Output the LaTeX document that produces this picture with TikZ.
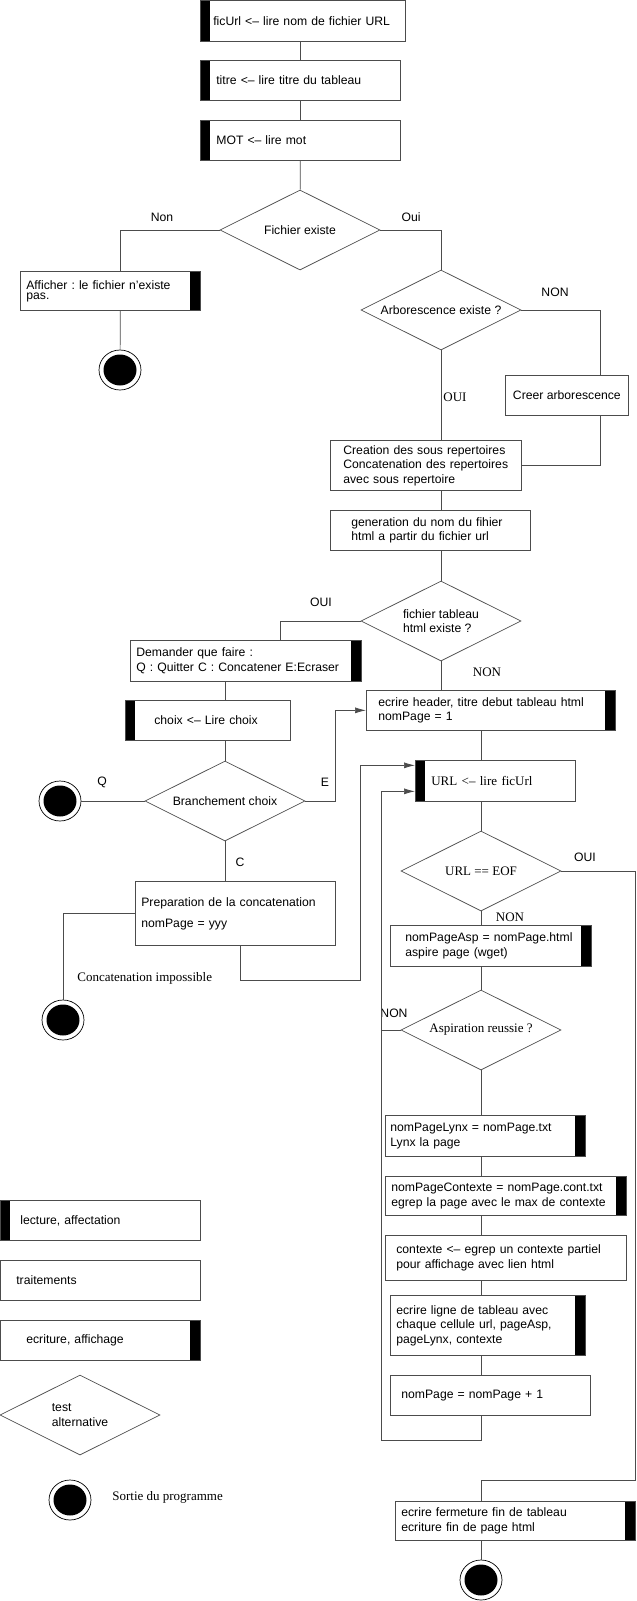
\documentclass[tikz,border=0pt]{standalone}
\usepackage{fontspec}
\setmainfont{Liberation Sans}
\newfontfamily\timesfont{Liberation Serif}
\usetikzlibrary{shapes.geometric, arrows.meta, positioning, calc}
\frenchspacing

\begin{document}
\begin{tikzpicture}[
        x=1pt, y=-1pt,
        font=\fontsize{12.2}{14.5}\selectfont,
        line width=0.7pt,
        bloc/.style={draw=black!70, rectangle, anchor=north west, align=left, inner ysep=0pt, minimum height=40},
        barg/.style={path picture={\fill[black] (path picture bounding box.north west) rectangle ([xshift=10pt]path picture bounding box.south west);}},
        bard/.style={path picture={\fill[black] ([xshift=-10pt]path picture bounding box.north east) rectangle (path picture bounding box.south east);}},
        losange/.style={draw=black!70, diamond, aspect=2, minimum width=160, minimum height=80, inner sep=0pt, align=center},
        fin/.style={draw, ellipse, minimum width=42, minimum height=40, inner sep=0pt, path picture={\fill[black] (path picture bounding box.center) ellipse (16.5pt and 15.5pt);}},
        romain/.style={font=\timesfont\fontsize{13}{15}\selectfont},
        etiq/.style={inner sep=0pt},
        lien/.style={draw=black!70},
        fleche/.style={lien, -{Latex[length=11pt,width=6pt]}}
    ]
        \useasboundingbox (0,0) rectangle (637,1601);

        % Lectures du debut
        \node[bloc, barg, minimum height=41, inner xsep=13pt, text width=179pt] (lireUrl) at (200,0) {ficUrl <\textendash{} lire nom de fichier URL};
        \node[bloc, barg, inner xsep=16pt, text width=168pt] (lireTitre) at (200,60) {titre <\textendash{} lire titre du tableau};
        \node[bloc, barg, inner xsep=16pt, text width=168pt] (lireMot) at (200,120) {MOT <\textendash{} lire mot};

        % Fichier existe
        \node[losange] (testFic) at (300,230) {Fichier existe};
        \node[bloc, bard, minimum height=39, inner xsep=6pt, text width=168pt, font=\fontsize{12.2}{10}\selectfont] (affNon) at (20,271) {Afficher : le fichier n'existe\\pas.};
        \node[fin] (fin1) at (120,370) {};

        % Arborescence
        \node[losange] (testArbo) at (441,310) {Arborescence existe ?};
        \node[bloc, align=center, minimum width=123] (creer) at (505,375) {Creer arborescence};
        \node[bloc, minimum height=50, inner xsep=13pt, text width=165pt] (creation) at (330,440) {Creation des sous repertoires\\Concatenation des repertoires\\avec sous repertoire};
        \node[bloc, inner xsep=21pt, text width=158pt] (generation) at (330,510) {generation du nom du fihier\\html a partir du fichier url};

        % Tableau html existe
        \node[losange, align=left] (testTab) at (441,621) {fichier tableau\\html existe ?};
        \node[bloc, bard, minimum height=41, inner xsep=6pt, text width=219pt] (demander) at (130,640) {Demander que faire :\\Q : Quitter C : Concatener E:Ecraser};
        \node[bloc, barg, inner xsep=29pt, text width=107pt] (choix) at (125,700) {choix <\textendash{} Lire choix};
        \node[losange] (testChoix) at (225,801) {Branchement choix};
        \node[fin] (fin2) at (60,801) {};
        \node[bloc, minimum height=64, inner xsep=6pt, text width=188pt, font=\fontsize{12.2}{21}\selectfont] (prep) at (135,881) {Preparation de la concatenation\\nomPage = yyy};
        \node[fin] (fin3) at (63,1020) {};
        \node[bloc, bard, inner xsep=12pt, text width=225pt] (header) at (366,690) {ecrire header, titre debut tableau html\\nomPage = 1};

        % Boucle sur les URL
        \node[bloc, barg, romain, minimum height=41, inner xsep=16pt, text width=128pt] (url) at (415,760) {URL <\textendash{} lire ficUrl};
        \node[losange, romain] (testEOF) at (481,871) {URL == EOF};
        \node[bloc, bard, minimum height=41, inner xsep=15pt, text width=171pt] (asp) at (390,925) {nomPageAsp = nomPage.html\\aspire page (wget)};
        \node[losange, romain] (testAsp) at (481,1030) {Aspiration reussie ?};
        \node[bloc, bard, minimum height=41, inner xsep=5pt, text width=190pt] (lynx) at (385,1115) {nomPageLynx = nomPage.txt\\Lynx la page};
        \node[bloc, bard, minimum height=39, inner xsep=6pt, text width=229pt] (ctxPage) at (385,1176) {nomPageContexte = nomPage.cont.txt\\egrep la page avec le max de contexte};
        \node[bloc, minimum height=45, inner xsep=11pt, text width=219pt] (ctxPartiel) at (385,1235) {contexte <\textendash{} egrep un contexte partiel\\pour affichage avec lien html};
        \node[bloc, bard, minimum height=60, inner xsep=6pt, text width=183pt] (ligne) at (390,1295) {ecrire ligne de tableau avec\\chaque cellule url, pageAsp,\\pageLynx, contexte};
        \node[bloc, inner xsep=11pt, text width=178pt] (incr) at (390,1375) {nomPage = nomPage + 1};
        \node[bloc, bard, minimum height=39, inner xsep=6pt, text width=228pt] (fermeture) at (395,1501) {ecrire fermeture fin de tableau\\ecriture fin de page html};
        \node[fin] (fin4) at (481,1580) {};

        % Etiquettes
        \node[etiq] (lNon) at (162,217) {Non};
        \node[etiq] (lOui) at (411,217) {Oui};
        \node[etiq] (lArboNon) at (555,292) {NON};
        \node[etiq, romain] (lArboOui) at (455,397) {OUI};
        \node[etiq] (lTabOui) at (321,602) {OUI};
        \node[etiq, romain] (lTabNon) at (487,672) {NON};
        \node[etiq] (lQ) at (102,782) {Q};
        \node[etiq] (lE) at (325,782) {E};
        \node[etiq] (lC) at (240,862) {C};
        \node[etiq] (lEofOui) at (585,857) {OUI};
        \node[etiq, romain] (lEofNon) at (510,917) {NON};
        \node[etiq] (lAspNon) at (394,1013) {NON};
        \node[etiq, romain, anchor=west] (lImposs) at (77,978) {Concatenation impossible};

        % Legende
        \node[bloc, barg, inner xsep=20pt, text width=160pt] (legLect) at (0,1200) {lecture, affectation};
        \node[bloc, inner xsep=16pt, text width=168pt] (legTrait) at (0,1260) {traitements};
        \node[bloc, bard, inner xsep=26pt, text width=148pt] (legEcr) at (0,1320) {ecriture, affichage};
        \node[losange, align=left] (legTest) at (80,1415) {test\\alternative};
        \node[fin] (legFin) at (70,1500) {};
        \node[etiq, romain, anchor=west] (legSortie) at (112,1497) {Sortie du programme};

        % Liens
        \draw[lien] (lireUrl.south -| lireTitre) -- (lireTitre.north);
        \draw[lien] (lireTitre) -- (lireMot);
        \draw[lien] (lireMot) -- (testFic);
        \draw[lien] (testFic.west) -| ([xshift=10pt]affNon.north);
        \draw[lien] ([xshift=10pt]affNon.south) -- (fin1);
        \draw[lien] (testFic.east) -| (testArbo.north);
        \draw[lien] (testArbo.east) -| ([xshift=33.5pt]creer.north);
        \draw[lien] ([xshift=33.5pt]creer.south) |- (creation.east);
        \draw[lien] (testArbo.south) -- (testArbo.south |- creation.north);
        \draw[lien] (testArbo |- creation.south) -- (testArbo |- generation.north);
        \draw[lien] (testTab |- generation.south) -- (testTab.north);
        \draw[lien] (testTab.west) -| ([xshift=34.5pt]demander.north);
        \draw[lien] (testChoix |- demander.south) -- (testChoix |- choix.north);
        \draw[lien] (testChoix |- choix.south) -- (testChoix.north);
        \draw[lien] (testChoix.west) -- (fin2);
        \draw[fleche] (testChoix.east) -- ++(30,0) |- (header.west);
        \draw[lien] (testChoix.south) -- (testChoix.south |- prep.north);
        \draw[lien] (prep.west) -| (fin3.north);
        \draw[fleche] ([xshift=5pt]prep.south) -- ++(0,35) -- ++(120,0) |- ([yshift=15.5pt]url.west);
        \draw[lien] (testTab.south) -- (testTab.south |- header.north);
        \draw[lien] (testEOF |- header.south) -- (testEOF |- url.north);
        \draw[lien] (testEOF |- url.south) -- (testEOF.north);
        \draw[lien] (testEOF.east) -- ++(74,0) -- ++(0,609) -| (testEOF |- fermeture.north);
        \draw[lien] (testEOF.south) -- (testEOF.south |- asp.north);
        \draw[lien] (testEOF |- asp.south) -- (testAsp.north);
        \draw[lien] (testAsp.west) -- ++(-19,0);
        \draw[lien] (testAsp.south) -- (testAsp.south |- lynx.north);
        \draw[lien] (testAsp |- lynx.south) -- (testAsp |- ctxPage.north);
        \draw[lien] (testAsp |- ctxPage.south) -- (testAsp |- ctxPartiel.north);
        \draw[lien] (testAsp |- ctxPartiel.south) -- (testAsp |- ligne.north);
        \draw[lien] (testAsp |- ligne.south) -- (testAsp |- incr.north);
        \draw[fleche] (testAsp |- incr.south) -- ++(0,25) -- ++(-100,0) |- ([yshift=-10.5pt]url.west);
        \draw[lien] (testEOF |- fermeture.south) -- (fin4);
    \end{tikzpicture}
\end{document}
